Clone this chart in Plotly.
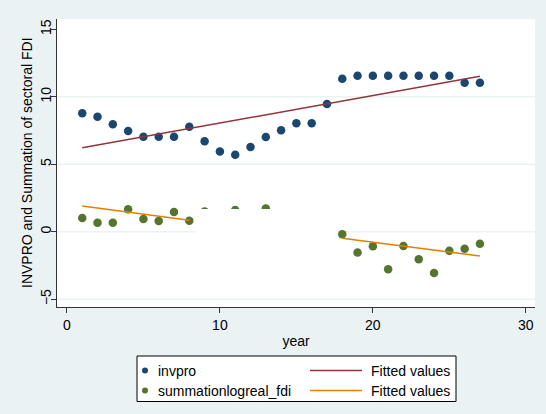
import plotly.graph_objects as go

# ---- data -------------------------------------------------------------
year = list(range(1, 28))

invpro = [8.77, 8.52, 7.96, 7.46, 7.04, 7.04, 7.04, 7.78, 6.70, 5.95,
          5.70, 6.27, 7.01, 7.51, 8.03, 8.03, 9.46, 11.33, 11.56, 11.56,
          11.56, 11.56, 11.56, 11.56, 11.56, 11.04, 11.04]

fdi = [1.01, 0.67, 0.67, 1.66, 0.94, 0.79, 1.46, 0.81, 1.50, None,
       1.61, None, 1.72, None, None, None, None, -0.19, -1.55, -1.08,
       -2.79, -1.06, -2.05, -3.06, -1.41, -1.26, -0.89]

# fitted values (straight lines, given at their end points)
fit_inv_x = [1, 27]
fit_inv_y = [6.22, 11.51]
fit_fdi1_x = [1, 8]
fit_fdi1_y = [1.90, 0.84]
fit_fdi2_x = [18, 27]
fit_fdi2_y = [-0.49, -1.80]

x_ticks = [0, 10, 20, 30]
y_ticks = [-5, 0, 5, 10, 15]

legend_labels = ["invpro", "summationlogreal_fdi", "Fitted values", "Fitted values"]
y_title = "INVPRO and Summation of sectoral FDI"

# ---- styling ----------------------------------------------------------
NAVY = "#1a476f"
MAROON = "#90353b"
GREEN = "#55752f"
ORANGE = "#e37e00"
BG = "#eaf2f3"
GRID = "#eaf2f3"
FONT = "Liberation Sans, Arial, sans-serif"

W, H = 546, 414
L, R, T, B = 57, 535, 19, 307  # plot region in pixels

fig = go.Figure()

fig.add_trace(go.Scatter(x=year, y=invpro, mode="markers",
                         marker=dict(color=NAVY, size=8.5), name=legend_labels[0]))
fig.add_trace(go.Scatter(x=year, y=fdi, mode="markers",
                         marker=dict(color=GREEN, size=8.5), name=legend_labels[1]))
fig.add_trace(go.Scatter(x=fit_inv_x, y=fit_inv_y, mode="lines",
                         line=dict(color=MAROON, width=1.5), name=legend_labels[2]))
fig.add_trace(go.Scatter(x=fit_fdi1_x, y=fit_fdi1_y, mode="lines",
                         line=dict(color=ORANGE, width=1.5), name=legend_labels[3]))
fig.add_trace(go.Scatter(x=fit_fdi2_x, y=fit_fdi2_y, mode="lines",
                         line=dict(color=ORANGE, width=1.5), showlegend=False))

# blank panel over the middle years
fig.add_shape(type="rect", xref="x", yref="y", x0=8.37, x1=17.7, y0=-0.9, y1=1.68,
              fillcolor="white", line=dict(width=0), layer="above")


# ---- legend drawn in paper coordinates --------------------------------
def px(xp):
    return (xp - L) / (R - L)


def py(yp):
    return (B - yp) / (B - T)


fig.add_shape(type="rect", xref="paper", yref="paper",
              x0=px(137), x1=px(456), y0=py(401.5), y1=py(356),
              fillcolor="white", line=dict(color="black", width=1))

rows = [370.5, 390.5]
for i, (col, lab) in enumerate([(NAVY, legend_labels[0]), (GREEN, legend_labels[1])]):
    y = rows[i]
    fig.add_shape(type="circle", xref="paper", yref="paper",
                  x0=px(142), x1=px(148), y0=py(y + 3), y1=py(y - 3),
                  fillcolor=col, line=dict(width=0))
    fig.add_annotation(xref="paper", yref="paper", x=px(156), y=py(y), text=lab,
                       showarrow=False, xanchor="left", yanchor="middle",
                       font=dict(family=FONT, size=14, color="black"))

for i, (col, lab) in enumerate([(MAROON, legend_labels[2]), (ORANGE, legend_labels[3])]):
    y = rows[i]
    fig.add_shape(type="line", xref="paper", yref="paper",
                  x0=px(310), x1=px(362), y0=py(y), y1=py(y),
                  line=dict(color=col, width=1.5))
    fig.add_annotation(xref="paper", yref="paper", x=px(369), y=py(y), text=lab,
                       showarrow=False, xanchor="left", yanchor="middle",
                       font=dict(family=FONT, size=14, color="black"))

# y-axis title placed beside the rotated tick labels
fig.add_annotation(xref="paper", yref="paper", x=px(27), y=0.5, text=y_title,
                   textangle=-90, showarrow=False, xanchor="center", yanchor="middle",
                   font=dict(family=FONT, size=14, color="black"))

# ---- axes / layout ----------------------------------------------------
fig.update_layout(
    width=W, height=H,
    margin=dict(l=L, r=W - R, t=T, b=H - B, pad=0),
    paper_bgcolor=BG,
    plot_bgcolor="white",
    showlegend=False,
    font=dict(family=FONT, size=14, color="black"),
    xaxis=dict(
        range=[-0.65, 30.6], tickvals=x_ticks, ticks="outside", ticklen=5,
        tickcolor="#333333", showline=True, linecolor="#333333", linewidth=1,
        showgrid=False, zeroline=False,
        title=dict(text="year", standoff=4, font=dict(size=14)),
        tickfont=dict(size=14),
    ),
    yaxis=dict(
        range=[-5.58, 15.76], tickvals=y_ticks, ticks="outside", ticklen=5,
        tickcolor="#333333", showline=True, linecolor="#333333", linewidth=1,
        showgrid=False, zeroline=False, tickangle=-90, ticklabelstandoff=-6,
        tickfont=dict(size=14),
    ),
)

# light horizontal grid lines (Stata style, none at the top tick)
for gy in [-5, 0, 5, 10]:
    fig.add_shape(type="line", xref="paper", yref="y", x0=0, x1=1, y0=gy, y1=gy,
                  line=dict(color=GRID, width=1.5), layer="below")

fig.write_html("out.html")
